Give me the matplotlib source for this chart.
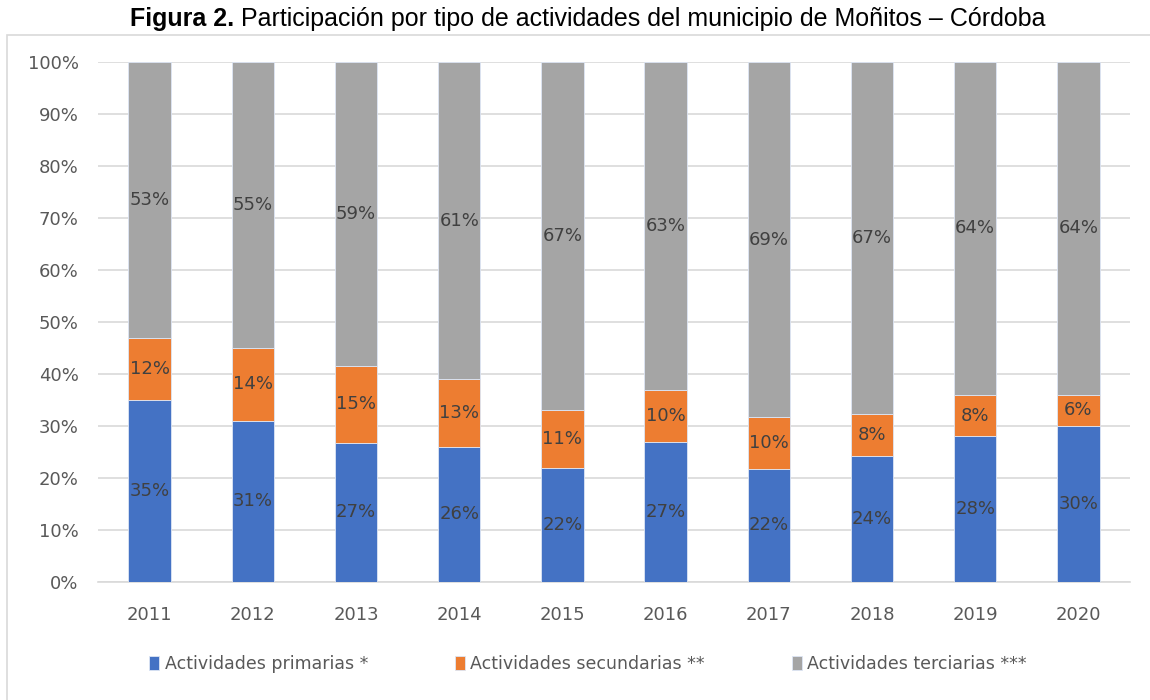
import matplotlib
matplotlib.use("Agg")
import matplotlib.pyplot as plt
import numpy as np
from matplotlib.patches import Rectangle

years = ["2011", "2012", "2013", "2014", "2015", "2016", "2017", "2018", "2019", "2020"]
primarias = [35, 31, 27, 26, 22, 27, 22, 24, 28, 30]
secundarias = [12, 14, 15, 13, 11, 10, 10, 8, 8, 6]
terciarias = [53, 55, 59, 61, 67, 63, 69, 67, 64, 64]
series_names = ["Actividades primarias *", "Actividades secundarias **", "Actividades terciarias ***"]
colors = ["#4472c4", "#ed7d31", "#a5a5a5"]

W, H = 1150, 700
fig = plt.figure(figsize=(W / 100, H / 100), dpi=100)

# chart frame (Excel-style light border)
fig.patches.append(Rectangle((7 / W, -0.01), 1.1, (H - 35) / H + 0.01, transform=fig.transFigure,
                             fill=False, edgecolor="#d9d9d9", linewidth=1.2))

# title: bold prefix + regular text, centred together
title_font = "Liberation Sans"
t1 = fig.text(0.0, 1 - 19 / H, "Figura 2.", fontfamily=title_font, fontweight="bold",
              fontsize=18, va="center", ha="left")
fig.canvas.draw()
r = fig.canvas.get_renderer()
w1 = t1.get_window_extent(r).width
t2 = fig.text(0, 1 - 19 / H, " Participación por tipo de actividades del municipio de Moñitos – Córdoba",
              fontfamily=title_font, fontsize=18, va="center", ha="left")
w2 = t2.get_window_extent(r).width
x0 = (588 - (w1 + w2) / 2) / W
t1.set_x(x0)
t2.set_x(x0 + w1 / W)

ax = fig.add_axes([98 / W, 1 - 582 / H, (1130 - 98) / W, (582 - 62) / H])

lab_font = "DejaVu Sans"
data = np.array([primarias, secundarias, terciarias], dtype=float)
shares = data / data.sum(axis=0) * 100
x = np.arange(len(years))
bottom = np.zeros(len(years))
for i in range(3):
    ax.bar(x, shares[i], 0.41, bottom=bottom, color=colors[i], edgecolor="#dde6f5",
           linewidth=0.6, label=series_names[i], zorder=3)
    for j in range(len(years)):
        ax.text(x[j], bottom[j] + shares[i][j] / 2, f"{int(data[i][j])}%", ha="center", va="center",
                fontsize=13, color="#404040", fontfamily=lab_font, zorder=4)
    bottom += shares[i]

ax.set_xlim(-0.5, len(years) - 0.5)
ax.set_ylim(0, 100)
ax.set_yticks(np.arange(0, 101, 10))
ax.set_yticklabels([f"{v}%" for v in range(0, 101, 10)])
ax.set_xticks(x)
ax.set_xticklabels(years)
ax.tick_params(length=0, labelsize=13, labelcolor="#595959")
ax.tick_params(axis="y", pad=14)
ax.tick_params(axis="x", pad=17)
for lab in ax.get_xticklabels() + ax.get_yticklabels():
    lab.set_fontfamily(lab_font)
ax.grid(axis="y", color="#d9d9d9", linewidth=1.2, zorder=0)
for s in ["top", "right", "left"]:
    ax.spines[s].set_visible(False)
ax.spines["bottom"].set_color("#d9d9d9")
ax.spines["bottom"].set_linewidth(1.2)

leg = fig.legend(loc="center", bbox_to_anchor=(588 / W, 1 - 664 / H), ncol=3, frameon=False,
                 prop={"family": lab_font, "size": 12.5}, handlelength=0.6, handleheight=0.8,
                 handletextpad=0.3, columnspacing=5.0)
for txt in leg.get_texts():
    txt.set_color("#595959")

fig.savefig("out.png", dpi=100)
